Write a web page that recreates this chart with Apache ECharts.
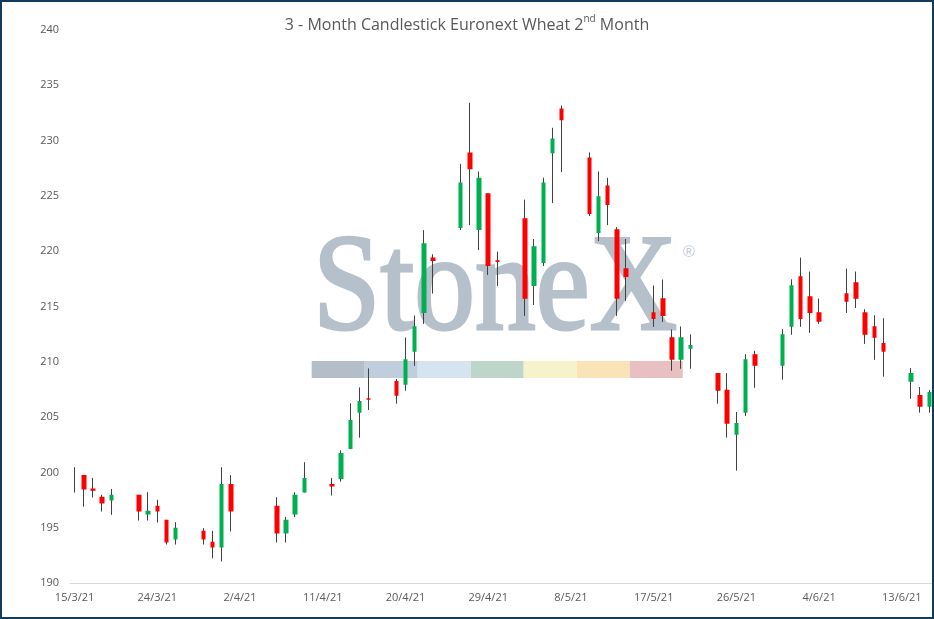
<!DOCTYPE html>
<html>
<head>
<meta charset="utf-8">
<script src="https://cdn.jsdelivr.net/npm/echarts@6/dist/echarts.min.js"></script>
<style>
html,body{margin:0;padding:0;background:#fff;}
#c{width:934px;height:619px;}
</style>
</head>
<body>
<div id="c"></div>
<script>
// Trading days (d/m/yy) and OHLC values
var dates = ['15/3/21','16/3/21','17/3/21','18/3/21','19/3/21','22/3/21','23/3/21','24/3/21','25/3/21','26/3/21',
  '29/3/21','30/3/21','31/3/21','1/4/21','6/4/21','7/4/21','8/4/21','9/4/21','12/4/21','13/4/21',
  '14/4/21','15/4/21','16/4/21','19/4/21','20/4/21','21/4/21','22/4/21','23/4/21','26/4/21','27/4/21',
  '28/4/21','29/4/21','30/4/21','3/5/21','4/5/21','5/5/21','6/5/21','7/5/21','10/5/21','11/5/21',
  '12/5/21','13/5/21','14/5/21','17/5/21','18/5/21','19/5/21','20/5/21','21/5/21','24/5/21','25/5/21',
  '26/5/21','27/5/21','28/5/21','31/5/21','1/6/21','2/6/21','3/6/21','4/6/21','7/6/21','8/6/21',
  '9/6/21','10/6/21','11/6/21','14/6/21','15/6/21','16/6/21'];
var opens = [199.3,199.77,198.55,197.79,197.45,197.97,196.19,196.98,195.71,193.94,
  194.72,193.73,193.21,198.96,196.98,194.48,196.19,198.18,198.96,199.41,
  202.12,205.4,206.7,208.26,207.92,210.9,214.42,219.42,222.1,228.93,
  221.91,225.23,219.18,222.97,216.86,218.94,228.86,232.9,228.47,221.64,
  225.95,221.98,218.46,214.49,215.75,212.23,210.18,211.17,208.98,207.47,
  203.41,205.4,210.69,209.64,213.16,217.73,215.93,214.49,216.2,217.19,
  214.49,213.22,211.69,208.2,206.99,205.94];
var closes = [199.3,198.45,198.35,197.18,197.97,196.46,196.53,196.46,193.66,194.99,
  193.94,193.21,198.96,196.46,194.48,195.71,197.97,199.5,198.72,201.76,
  204.74,206.45,206.57,206.93,210.24,213.22,220.71,219.12,226.22,227.42,
  226.64,218.66,219.03,215.69,220.44,226.22,230.19,231.84,223.36,224.96,
  224.17,215.69,217.67,213.88,214.15,210.18,212.23,211.51,207.38,204.4,
  204.47,210.24,209.64,212.5,216.92,213.88,214.42,213.61,215.42,215.69,
  212.44,212.17,210.9,208.98,205.94,207.27];
var lows = [198.18,196.91,197.73,196.46,196.16,195.65,195.65,195.47,193.48,193.48,
  193.48,192.22,191.95,194.66,193.66,193.66,195.96,198.18,197.91,199.17,
  202.12,203.14,205.64,206.21,207.38,209.64,213.43,216.17,221.91,222.36,
  220.11,217.85,216.86,214.15,215.14,218.66,224.35,227.15,223.18,220.92,
  222.36,214.15,215.5,213.16,213.61,209.19,209.37,209.37,206.21,203.14,
  200.16,205.1,207.65,208.38,212.44,213.16,212.62,213.43,214.42,214.87,
  211.62,210.18,208.65,206.66,205.4,205.4];
var highs = [200.47,199.77,199.48,197.97,198.51,197.97,198.21,197.52,195.71,195.5,
  194.96,194.72,200.47,199.75,197.76,195.98,198.21,200.92,199.48,202.0,
  206.25,207.69,209.4,208.44,212.2,214.19,221.9,219.72,227.9,233.41,
  227.21,225.23,219.96,224.66,221.1,226.64,231.16,233.17,228.93,227.21,
  226.64,222.18,221.1,216.9,217.44,212.92,213.19,212.47,208.98,208.98,
  205.46,210.69,210.99,212.95,217.46,219.42,218.16,215.72,218.43,218.16,
  214.76,214.21,213.94,209.43,207.72,207.45];
var yTicks = [190,195,200,205,210,215,220,225,230,235,240];
var firstDay = '2021-03-15', lastDay = '2021-06-16';

// Calendar category axis (all days, weekends/holidays left empty)
var cats = [];
(function(){
  var d = new Date(firstDay + 'T00:00:00Z'), e = new Date(lastDay + 'T00:00:00Z');
  while (d <= e) {
    cats.push(d.getUTCDate() + '/' + (d.getUTCMonth()+1) + '/' + String(d.getUTCFullYear()).slice(2));
    d.setUTCDate(d.getUTCDate()+1);
  }
})();
var lookup = {};
dates.forEach(function(dt,i){ lookup[dt] = i; });
var ohlc = cats.map(function(c){
  var i = lookup[c];
  if (i === undefined) return '-';
  return [opens[i], closes[i], lows[i], highs[i]];
});

var chart = echarts.init(document.getElementById('c'), null, {renderer:'canvas'});
var stripColors = ['#b3bec8','#bfcddd','#d6e4f0','#bed6ca','#f6f2c9','#fbe3b8','#e9c0c1'];
var graphics = [];
graphics.push({type:'text', x:313, y:293, z:0, scaleX:0.88, silent:true,
  style:{text:'StoneX', font:'138px "Liberation Serif"', fill:'#b5c0ca', stroke:'#b5c0ca', lineWidth:3, align:'left', verticalAlign:'middle'}});
graphics.push({type:'text', x:683, y:253, z:0, silent:true,
  style:{text:'®', font:'16px "Liberation Sans"', fill:'#c3ccd5', align:'left', verticalAlign:'middle'}});
stripColors.forEach(function(col,i){
  graphics.push({type:'rect', z:0, silent:true, shape:{x:311.7+i*53, y:361, width:53, height:17}, style:{fill:col}});
});
graphics.push({type:'rect', z:100, silent:true, shape:{x:1, y:1, width:932, height:617},
  style:{fill:'none', stroke:'#133b5c', lineWidth:2}});

chart.setOption({
  animation:false,
  backgroundColor:'#ffffff',
  title:{
    text:'{a|3 - Month Candlestick Euronext Wheat 2}{s|nd}{a| Month}',
    left:'center', top:9,
    textStyle:{fontWeight:'normal', rich:{
      a:{fontFamily:'Open Sans', fontSize:16, fontWeight:'normal', color:'#595959', lineHeight:22},
      s:{fontFamily:'Open Sans', fontSize:10, fontWeight:'normal', color:'#595959', lineHeight:22, verticalAlign:'top'}
    }}
  },
  graphic: graphics,
  grid:{left:70, right:0, top:30, bottom:36, containLabel:false},
  xAxis:{
    type:'category', data:cats, boundaryGap:true,
    axisLine:{lineStyle:{color:'#d9d9d9', width:1}},
    axisTick:{show:false},
    axisLabel:{interval:8, color:'#595959', fontFamily:'Open Sans', fontSize:11, margin:9},
    splitLine:{show:false}
  },
  yAxis:{
    type:'value', min:yTicks[0], max:yTicks[yTicks.length-1], interval:5,
    axisLine:{show:false}, axisTick:{show:false}, splitLine:{show:false},
    axisLabel:{color:'#595959', fontFamily:'Open Sans', fontSize:11, margin:11}
  },
  series:[
    {type:'candlestick', name:'wick', data:ohlc, barWidth:1, z:2,
      itemStyle:{color:'#404040', color0:'#404040', borderColor:'#404040', borderColor0:'#404040', borderWidth:1}},
    {type:'candlestick', name:'body', data:ohlc, barWidth:5, z:3,
      itemStyle:{color:'#00b050', color0:'#ff0000', borderColor:'#00b050', borderColor0:'#ff0000', borderWidth:0}}
  ]
});
</script>
</body>
</html>
